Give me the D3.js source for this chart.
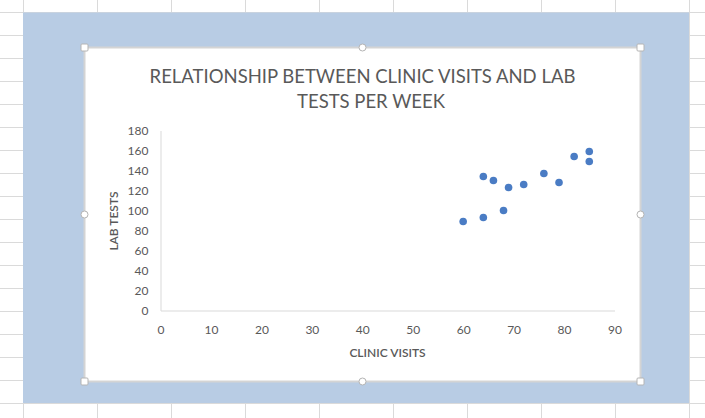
<!DOCTYPE html>
<html>
<head>
<meta charset="utf-8">
<script src="https://cdn.jsdelivr.net/npm/d3@7/dist/d3.min.js"></script>
<style>
  html, body { margin: 0; padding: 0; background: #fff; }
  svg { display: block; }
  text { font-family: Lato, "Open Sans", sans-serif; fill: #595959; }
</style>
</head>
<body>
<svg id="chart" width="705" height="418"></svg>
<script>
// ---- data ----
const clinicVisits = [60, 64, 68, 64, 66, 69, 72, 76, 79, 82, 85, 85];
const labTests     = [89, 93, 100, 134, 130, 123, 126, 137, 128, 154, 159, 149];
const xTicks = [0, 10, 20, 30, 40, 50, 60, 70, 80, 90];
const yTicks = [0, 20, 40, 60, 80, 100, 120, 140, 160, 180];
const titleLines = ["RELATIONSHIP BETWEEN CLINIC VISITS AND LAB", "TESTS PER WEEK"];
const xTitle = "CLINIC VISITS";
const yTitle = "LAB TESTS";

const svg = d3.select("#chart");

// spreadsheet gridlines
const gridV = d3.range(23.5, 705, 74);
const gridH = d3.range(12.5, 418, 23);
svg.append("g").selectAll("line").data(gridV).join("line")
  .attr("x1", d => d).attr("x2", d => d).attr("y1", 0).attr("y2", 418)
  .attr("stroke", "#dadada").attr("stroke-width", 1);
svg.append("g").selectAll("line").data(gridH).join("line")
  .attr("x1", 0).attr("x2", 705).attr("y1", d => d).attr("y2", d => d)
  .attr("stroke", "#dadada").attr("stroke-width", 1);

// blue selection background
svg.append("rect").attr("x", 23).attr("y", 12.5).attr("width", 666).attr("height", 390.5)
  .attr("fill", "#b8cce4");

// chart area
svg.append("rect").attr("x", 84.5).attr("y", 47.5).attr("width", 556).attr("height", 334)
  .attr("fill", "#ffffff").attr("stroke", "#d4d4d4").attr("stroke-width", 2);

// handles
const corners = [[84.5, 47.5], [640.5, 47.5], [84.5, 381.5], [640.5, 381.5]];
const mids = [[362.5, 47.5], [362.5, 381.5], [84.5, 214.5], [640.5, 214.5]];
svg.append("g").selectAll("rect").data(corners).join("rect")
  .attr("x", d => d[0] - 3.5).attr("y", d => d[1] - 3.5).attr("width", 7).attr("height", 7)
  .attr("rx", 1).attr("fill", "#fff").attr("stroke", "#b4b4b4");
svg.append("g").selectAll("circle").data(mids).join("circle")
  .attr("cx", d => d[0]).attr("cy", d => d[1]).attr("r", 3.5)
  .attr("fill", "#fff").attr("stroke", "#b4b4b4");

// scales
const x = d3.scaleLinear().domain([0, 90]).range([160.5, 614.5]);
const y = d3.scaleLinear().domain([0, 180]).range([310.5, 130.5]);

// axes
const xAxis = svg.append("g").attr("transform", `translate(0,${y(0)})`)
  .call(d3.axisBottom(x).tickValues(xTicks).tickSize(0).tickPadding(15));
const yAxis = svg.append("g").attr("transform", `translate(${x(0)},0)`)
  .call(d3.axisLeft(y).tickValues(yTicks).tickSize(0).tickPadding(12));
[xAxis, yAxis].forEach(g => {
  g.select(".domain").attr("stroke", "#d9d9d9").attr("stroke-width", 1);
  g.selectAll("text").attr("font-family", "Lato, 'Open Sans', sans-serif")
    .attr("font-size", 12).attr("fill", "#595959");
});

// title
svg.append("text").attr("x", 362.5).attr("y", 82.5).attr("text-anchor", "middle")
  .attr("font-size", 18.5).text(titleLines[0]);
svg.append("text").attr("x", 371).attr("y", 107.5).attr("text-anchor", "middle")
  .attr("font-size", 18.5).text(titleLines[1]);

// axis titles
svg.append("text").attr("x", 387.5).attr("y", 357).attr("text-anchor", "middle")
  .attr("font-size", 12).attr("font-weight", 600).text(xTitle);
svg.append("text").attr("transform", "translate(118,221) rotate(-90)")
  .attr("text-anchor", "middle").attr("font-size", 12).attr("font-weight", 600).text(yTitle);

// points
svg.append("g").selectAll("circle").data(clinicVisits.map((v, i) => [v, labTests[i]]))
  .join("circle")
  .attr("cx", d => x(d[0])).attr("cy", d => y(d[1])).attr("r", 3.8)
  .attr("fill", "#4a7cc4");
</script>
</body>
</html>
